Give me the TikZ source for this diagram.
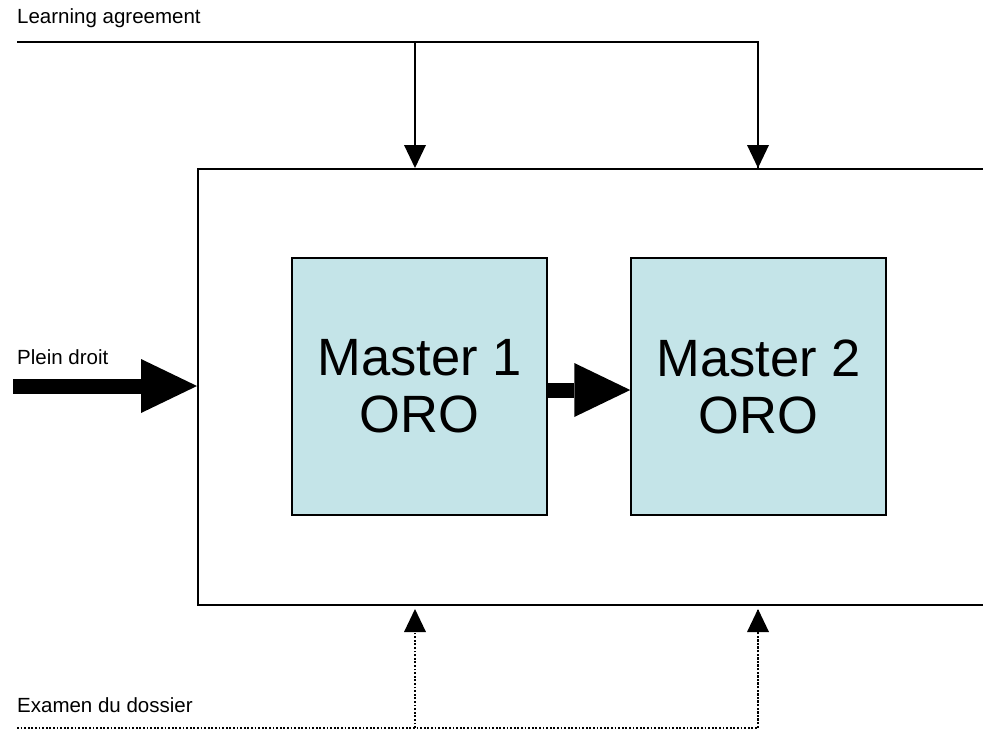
\documentclass[tikz,border=0pt]{standalone}
\usepackage{fontspec}
\setmainfont{Liberation Sans}
\usetikzlibrary{arrows.meta}
\definecolor{boxfill}{RGB}{196,228,232}
\tikzset{
  lbl/.style={anchor=west, inner sep=0pt, font=\fontsize{20.5}{24}\selectfont},
  master/.style={draw, line width=1.5pt, fill=boxfill, minimum width=255pt, minimum height=257pt,
    align=center, inner sep=0pt, font=\fontsize{52.5}{57}\selectfont},
  feed/.style={line width=1.8pt, -{Triangle[width=22pt,length=23pt,line width=0pt]}},
  dotfeed/.style={line width=1.8pt, dash pattern=on 1.8pt off 1.8pt, -{Triangle[width=22pt,length=23pt,line width=0pt]}},
  fat/.style={line width=15pt, -{Triangle[width=54pt,length=56pt,line width=0pt]}},
}
\begin{document}
\begin{tikzpicture}[x=1pt,y=-1pt]
\useasboundingbox (0,0) rectangle (983,732);
\clip (0,0) rectangle (983,732);
% outer frame, running past the right edge
\node[draw, line width=1.5pt, anchor=north west, minimum width=900pt, minimum height=436pt, inner sep=0pt] (frame) at (197,168) {};
% the two years
\node[master] (m1) at (419.5,386.5) {Master 1\\ORO};
\node[master] (m2) at (758.5,386.5) {Master 2\\ORO};
% labels
\node[lbl] (la) at (17,18) {Learning agreement};
\node[lbl] (pd) at (17,357) {Plein droit};
\node[lbl] (ed) at (17,705) {Examen du dossier};
% learning agreement feed
\coordinate (lastart) at (17,42);
\coordinate (ta) at (415,168);
\coordinate (tb) at (758,168);
\draw[line width=1.8pt] (lastart) -| (tb);
\draw[feed] (ta |- lastart) -- (ta);
\draw[feed] (tb |- lastart) -- (tb);
% dossier feed
\coordinate (edstart) at (17,728);
\coordinate (ba) at (415,609);
\coordinate (bb) at (758,609);
\draw[line width=1.8pt, dash pattern=on 1.8pt off 1.8pt] (edstart) -| (bb);
\draw[dotfeed] (ba |- edstart) -- (ba);
\draw[dotfeed] (bb |- edstart) -- (bb);
% direct entry and progression
\coordinate (pdstart) at (13,386);
\draw[fat] (pdstart) -- (pdstart -| frame.west);
\draw[fat] (m1.east |- 0,390) -- (m2.west |- 0,390);
\end{tikzpicture}
\end{document}
